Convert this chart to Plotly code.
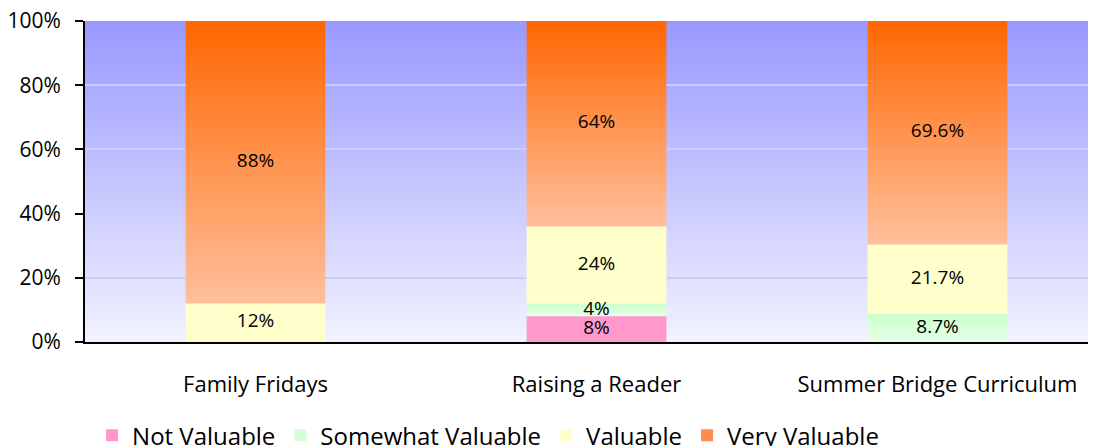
import base64, struct, zlib
import plotly.graph_objects as go

categories = ["Family Fridays", "Raising a Reader", "Summer Bridge Curriculum"]
not_valuable = [0, 8, 0]
somewhat_valuable = [0, 4, 8.7]
valuable = [12, 24, 21.7]
very_valuable = [88, 64, 69.6]
series_names = ["Not Valuable", "Somewhat Valuable", "Valuable", "Very Valuable"]
y_ticks = [0, 20, 40, 60, 80, 100]
y_tick_labels = ["0%", "20%", "40%", "60%", "80%", "100%"]

series = [not_valuable, somewhat_valuable, valuable, very_valuable]
# (bottom colour, top colour) of each segment's vertical gradient
grad = [("#FF99CC", "#FF99CC"), ("#E6FFE8", "#CCFFCC"),
        ("#FFFFCC", "#FFFFCC"), ("#FFC09C", "#FF6600")]
legend_col = ["#FF99CC", "#D6FFD8", "#FFFFCC", "#FF8C4A"]
BW = 0.41
FONT = "Open Sans"


def gradient_png(top, bottom, n=256):
    def hx(c):
        return [int(c[i:i + 2], 16) for i in (1, 3, 5)]
    t, b = hx(top), hx(bottom)
    raw = b""
    for r in range(n):
        f = r / (n - 1)
        raw += b"\x00" + bytes(round(t[k] + (b[k] - t[k]) * f) for k in range(3))

    def chunk(tag, data):
        c = struct.pack(">I", len(data)) + tag + data
        return c + struct.pack(">I", zlib.crc32(tag + data) & 0xFFFFFFFF)
    png = b"\x89PNG\r\n\x1a\n" + chunk(b"IHDR", struct.pack(">IIBBBBB", 1, n, 8, 2, 0, 0, 0))
    png += chunk(b"IDAT", zlib.compress(raw)) + chunk(b"IEND", b"")
    return "data:image/png;base64," + base64.b64encode(png).decode()


fig = go.Figure()
xs = list(range(len(categories)))

# legend / structural bars
for name, vals, col in zip(series_names, series, legend_col):
    fig.add_trace(go.Bar(x=xs, y=vals, name=name, width=BW, marker=dict(color=col, line_width=0),
                         legendgroup=name, hoverinfo="skip"))

# gradient overlays for each segment
label_x, label_y, label_t = [], [], []
for i in xs:
    base = 0
    for k, vals in enumerate(series):
        v = vals[i]
        if v > 0:
            x0, x1 = i - BW / 2, i + BW / 2
            fig.add_trace(go.Scatter(
                x=[x0, x1, x1, x0, x0], y=[base, base, base + v, base + v, base],
                mode="lines", fill="toself", line=dict(width=0),
                fillgradient=dict(type="vertical",
                                  colorscale=[[0, grad[k][0]], [1, grad[k][1]]]),
                showlegend=False, hoverinfo="skip"))
            label_x.append(i)
            label_y.append(base + v / 2)
            label_t.append(f"{v:g}%")
        base += v

fig.add_trace(go.Scatter(x=label_x, y=label_y, text=label_t, mode="text",
                         textfont=dict(family=FONT, size=19, color="black"),
                         showlegend=False, hoverinfo="skip"))

# page body has an 8px margin, so the figure starts at (8, 8) in the window
W, H = 1088, 438
ML, MT, MB = 77, 13, 104
slot = 341.0
xmax = -0.5 + (W - ML) / slot

fig.update_layout(
    width=W, height=H, barmode="stack",
    margin=dict(l=ML, r=0, t=MT, b=MB, pad=0, autoexpand=False),
    paper_bgcolor="white", plot_bgcolor="rgba(0,0,0,0)",
    font=dict(family=FONT, size=18, color="black"),
    images=[dict(source=gradient_png("#9999FF", "#F2F2FF"), xref="paper", yref="paper",
                 x=0, y=1, sizex=1, sizey=1, sizing="stretch", xanchor="left",
                 yanchor="top", layer="below")],
    xaxis=dict(range=[-0.5, xmax], tickmode="array", tickvals=xs, ticktext=categories,
               ticks="", showgrid=False, zeroline=False, showline=True, linecolor="black",
               linewidth=2, tickfont=dict(size=22), ticklabelstandoff=22, automargin=False),
    xaxis2=dict(range=[-0.5, xmax], overlaying="x", anchor="y", side="bottom",
                tickmode="array", tickvals=[-0.5, 0.5, 1.5, 2.5], ticks="outside",
                ticklen=8, tickwidth=2, tickcolor="black", showticklabels=False,
                showgrid=False, zeroline=False, showline=False, automargin=False),
    xaxis3=dict(range=[-0.5, xmax], overlaying="x", anchor="y", side="top",
                showticklabels=False, ticks="", showgrid=False, zeroline=False,
                showline=True, linecolor="#808080", linewidth=2, automargin=False),
    yaxis=dict(range=[0, 100], tickmode="array", tickvals=y_ticks, ticktext=y_tick_labels,
               ticks="outside", ticklen=8, tickwidth=2, tickcolor="black",
               showline=True, linecolor="black", linewidth=2, showgrid=True,
               gridcolor="#CCCCFF", gridwidth=2, zeroline=False,
               tickfont=dict(size=21), ticklabelstandoff=10, automargin=False,
               ticklabeloverflow="allow"),
    legend=dict(orientation="h", x=0.007, xanchor="left", y=-0.222, yanchor="top",
                font=dict(size=24), itemclick=False, traceorder="grouped",
                tracegroupgap=16, bgcolor="rgba(0,0,0,0)"),
    showlegend=True,
)

fig.write_html("out.html")
